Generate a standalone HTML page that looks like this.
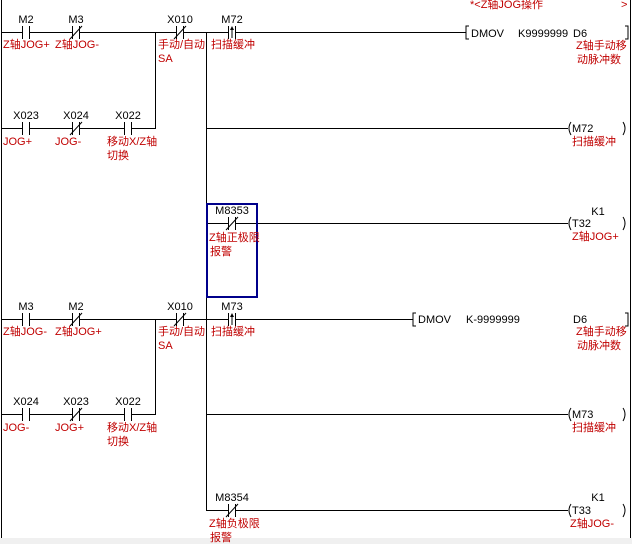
<!DOCTYPE html>
<html><head><meta charset="utf-8"><style>
html,body{margin:0;padding:0;background:#fff;width:632px;height:544px;overflow:hidden}
svg text{font-family:"Liberation Sans","Noto Sans CJK SC",sans-serif;font-size:11px}
.k{fill:#000}.r{fill:#c00000}
</style></head><body>
<svg width="632" height="544" viewBox="0 0 632 544" xmlns="http://www.w3.org/2000/svg">
<rect x="0" y="538" width="632" height="6" fill="#f0f0f0"/>
<g stroke="#000" stroke-width="1" fill="none" shape-rendering="crispEdges">
<line x1="1.5" y1="0" x2="1.5" y2="538"/>
<line x1="630.5" y1="0" x2="630.5" y2="538"/>
<!-- rows -->
<line x1="1" y1="32.5" x2="466" y2="32.5"/>
<line x1="1" y1="128.5" x2="155" y2="128.5"/>
<line x1="155.5" y1="32" x2="155.5" y2="129"/>
<line x1="206.5" y1="32" x2="206.5" y2="511"/>
<line x1="206" y1="128.5" x2="568" y2="128.5"/>
<line x1="206" y1="223.5" x2="568" y2="223.5"/>
<line x1="1" y1="319.5" x2="413" y2="319.5"/>
<line x1="1" y1="414.5" x2="155" y2="414.5"/>
<line x1="155.5" y1="319" x2="155.5" y2="415"/>
<line x1="206" y1="414.5" x2="568" y2="414.5"/>
<line x1="206" y1="510.5" x2="568" y2="510.5"/>
</g>
<!-- contact gaps -->
<g fill="#fff">
<rect x="23" y="30" width="6" height="5"/><rect x="73" y="30" width="6" height="5"/><rect x="177" y="30" width="6" height="5"/><rect x="229" y="30" width="6" height="5"/>
<rect x="23" y="126" width="6" height="5"/><rect x="73" y="126" width="6" height="5"/><rect x="125" y="126" width="6" height="5"/>
<rect x="229" y="221" width="6" height="5"/>
<rect x="23" y="317" width="6" height="5"/><rect x="73" y="317" width="6" height="5"/><rect x="177" y="317" width="6" height="5"/><rect x="229" y="317" width="6" height="5"/>
<rect x="23" y="412" width="6" height="5"/><rect x="73" y="412" width="6" height="5"/><rect x="125" y="412" width="6" height="5"/>
<rect x="229" y="508" width="6" height="5"/>
</g>
<g stroke="#000" stroke-width="1" fill="none" shape-rendering="crispEdges">
<!-- bars -->
<path d="M22.5 26v13M29.5 26v13M72.5 26v13M79.5 26v13M176.5 26v13M183.5 26v13M228.5 26v13M235.5 26v13"/>
<path d="M22.5 122v13M29.5 122v13M72.5 122v13M79.5 122v13M124.5 122v13M131.5 122v13"/>
<path d="M228.5 217v13M235.5 217v13"/>
<path d="M22.5 313v13M29.5 313v13M72.5 313v13M79.5 313v13M176.5 313v13M183.5 313v13M228.5 313v13M235.5 313v13"/>
<path d="M22.5 408v13M29.5 408v13M72.5 408v13M79.5 408v13M124.5 408v13M131.5 408v13"/>
<path d="M228.5 504v13M235.5 504v13"/>
</g>
<g stroke="#000" stroke-width="1" fill="none">
<!-- NC diagonals -->
<path d="M70 39L82 26M174 39L186 26M70 135L82 122M226 230L238 217M70 326L82 313M174 326L186 313M70 421L82 408M226 517L238 504"/>
<!-- rising arrows -->
<path d="M232 38V28M232 325V315"/>
</g>
<path d="M230 30L232 26L234 30Z M230 317L232 313L234 317Z" fill="#000"/>
<!-- brackets -->
<g stroke="#000" stroke-width="1" fill="none">
<path d="M469 26h-3v13h3M625 26h3v13h-3"/>
<path d="M416 313h-3v13h3M625 313h3v13h-3"/>
<path d="M571 122q-4 6 0 13M623 122q4 6 0 13"/>
<path d="M571 217q-4 6 0 13M623 217q4 6 0 13"/>
<path d="M571 408q-4 6 0 13M623 408q4 6 0 13"/>
<path d="M571 504q-4 6 0 13M623 504q4 6 0 13"/>
</g>
<rect x="207" y="204" width="50" height="93" fill="none" stroke="#00008b" stroke-width="2"/>
<!-- black labels -->
<g class="k" text-anchor="middle">
<text x="26" y="23">M2</text><text x="76" y="23">M3</text><text x="180" y="23">X010</text><text x="232" y="23">M72</text>
<text x="26" y="119">X023</text><text x="76" y="119">X024</text><text x="128" y="119">X022</text>
<text x="232" y="214">M8353</text>
<text x="26" y="310">M3</text><text x="76" y="310">M2</text><text x="180" y="310">X010</text><text x="232" y="310">M73</text>
<text x="26" y="405">X024</text><text x="76" y="405">X023</text><text x="128" y="405">X022</text>
<text x="232" y="501">M8354</text>
<text x="598" y="215">K1</text><text x="598" y="501">K1</text>
</g>
<g class="k">
<text x="471" y="37">DMOV</text><text x="518" y="37">K9999999</text><text x="573" y="37">D6</text>
<text x="418" y="323">DMOV</text><text x="466" y="323">K-9999999</text><text x="573" y="323">D6</text>
<text x="572" y="132">M72</text><text x="572" y="227">T32</text><text x="572" y="418">M73</text><text x="572" y="514">T33</text>
</g>
<!-- red labels -->
<g class="r">
<text x="470" y="8">*&lt;Z轴JOG操作</text><text x="621" y="8">&gt;</text>
<text x="3" y="48">Z轴JOG+</text><text x="55" y="48">Z轴JOG-</text><text x="158" y="48">手动/自动</text><text x="158" y="62">SA</text><text x="211" y="48">扫描缓冲</text>
<text x="576" y="49">Z轴手动移</text><text x="577" y="63">动脉冲数</text>
<text x="3" y="145">JOG+</text><text x="55" y="145">JOG-</text><text x="107" y="145">移动X/Z轴</text><text x="107" y="159">切换</text>
<text x="572" y="145">扫描缓冲</text>
<text x="209" y="241">Z轴正极限</text><text x="210" y="255">报警</text>
<text x="572" y="240">Z轴JOG+</text>
<text x="3" y="335">Z轴JOG-</text><text x="55" y="335">Z轴JOG+</text><text x="158" y="335">手动/自动</text><text x="158" y="349">SA</text><text x="211" y="335">扫描缓冲</text>
<text x="576" y="335">Z轴手动移</text><text x="577" y="349">动脉冲数</text>
<text x="3" y="431">JOG-</text><text x="55" y="431">JOG+</text><text x="107" y="431">移动X/Z轴</text><text x="107" y="445">切换</text>
<text x="572" y="431">扫描缓冲</text>
<text x="209" y="527">Z轴负极限</text><text x="210" y="541">报警</text>
<text x="570" y="527">Z轴JOG-</text>
</g>
</svg>
</body></html>
